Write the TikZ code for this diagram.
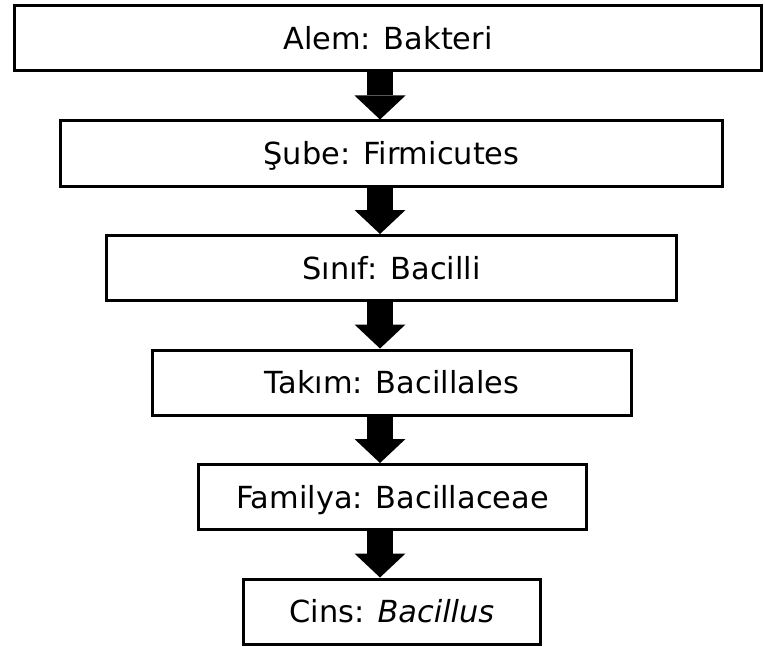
\documentclass[tikz,border=0pt]{standalone}
\usepackage{fontspec}
\setmainfont{DejaVu Sans}
\usetikzlibrary{arrows.meta}

\begin{document}
\begin{tikzpicture}[x = 0.5pt, y = -0.5pt,
	taxon/.style = {draw, line width = 1.5pt, minimum height = 32.5pt, inner sep = 0pt,
		font = \fontsize{15.2}{18}\selectfont, text height = 11.1pt, text depth = 0pt},
	rank/.style = {line width = 13pt, -{Triangle[width = 25.5pt, length = 12pt, line width = 0pt]}}]

	\useasboundingbox (0, 0) rectangle (765, 647);

	\node [taxon, minimum width = 373.5pt] (alem) at (388, 38.5) {Alem: Bakteri};
	\node [taxon, minimum width = 331pt] (sube) at (391.5, 153.5) {Şube: Firmicutes};
	\node [taxon, minimum width = 285pt] (sinif) at (391.5, 268) {Sınıf: Bacilli};
	\node [taxon, minimum width = 239.5pt] (takim) at (392, 382.5) {Takım: Bacillales};
	\node [taxon, minimum width = 194pt] (familya) at (392.5, 497) {Familya: Bacillaceae};
	\node [taxon, minimum width = 148.5pt] (cins) at (392, 611.5) {Cins: \textit{Bacillus}};

	\coordinate (spine) at (380, 0);

	\draw [rank] (spine |- alem.south) -- (spine |- sube.north);
	\draw [rank] (spine |- sube.south) -- (spine |- sinif.north);
	\draw [rank] (spine |- sinif.south) -- (spine |- takim.north);
	\draw [rank] (spine |- takim.south) -- (spine |- familya.north);
	\draw [rank] (spine |- familya.south) -- (spine |- cins.north);

\end{tikzpicture}
\end{document}
